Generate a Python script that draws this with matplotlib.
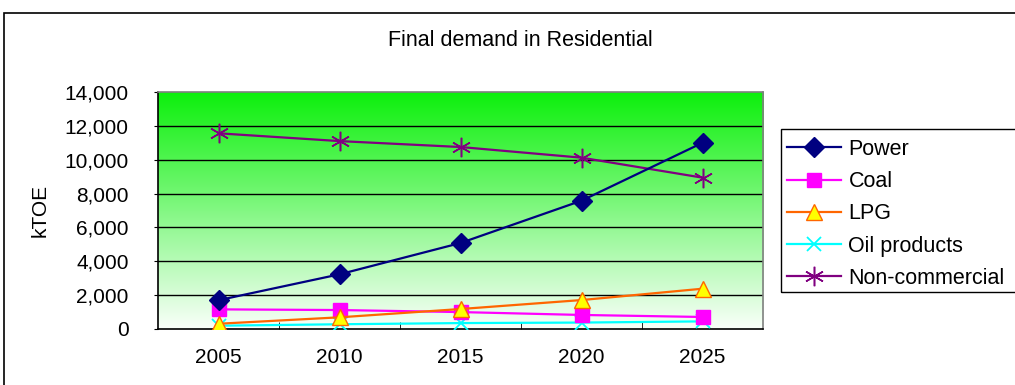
import numpy as np
import matplotlib
matplotlib.use("Agg")
import matplotlib.pyplot as plt
from matplotlib.patches import Rectangle
from matplotlib.colors import LinearSegmentedColormap

plt.rcParams['font.family'] = ['Liberation Sans', 'DejaVu Sans']

years = ["2005", "2010", "2015", "2020", "2025"]
power = [1700, 3230, 5080, 7580, 11000]
coal = [1160, 1120, 1000, 830, 710]
lpg = [310, 690, 1180, 1710, 2380]
oil_products = [195, 280, 350, 380, 450]
non_commercial = [11560, 11100, 10750, 10120, 8940]

W, H = 1015, 385
fig = plt.figure(figsize=(W / 100, H / 100), dpi=100)
fig.patch.set_facecolor("white")

# outer chart frame
fig.patches.append(Rectangle((4 / W, -0.1), 2.0, 1 - 13 / H + 0.1,
                             transform=fig.transFigure, fill=False,
                             edgecolor="black", linewidth=1.2, zorder=0))

left, right, top, bottom = 158, 763, 92, 329
ax = fig.add_axes([left / W, 1 - bottom / H, (right - left) / W, (bottom - top) / H])

x = np.arange(len(years))
ax.set_xlim(-0.5, len(years) - 0.5)
ax.set_ylim(0, 14000)

# vertical white-to-green background gradient
cmap = LinearSegmentedColormap.from_list("bg", ["#fafffa", "#0cf00c"])
grad = np.linspace(0, 1, 256).reshape(-1, 1)
ax.imshow(grad, cmap=cmap, origin="lower", aspect="auto",
          extent=(-0.5, len(years) - 0.5, 0, 14000), zorder=0)

yt = np.arange(0, 14001, 2000)
for v in yt[1:-1]:
    ax.axhline(v, color="black", linewidth=1.0, zorder=1)

lw = 1.6
ax.plot(x, power, color="#000080", marker="D", markersize=10, linewidth=lw,
        label="Power", zorder=5)
ax.plot(x, coal, color="#ff00ff", marker="s", markersize=10, linewidth=lw,
        label="Coal", zorder=4)
ax.plot(x, lpg, color="#ff6600", marker="^", markersize=12, markerfacecolor="#ffff00",
        markeredgecolor="#ff6600", linewidth=lw, label="LPG", zorder=4)
ax.plot(x, oil_products, color="#00ffff", marker="x", markersize=10, markeredgewidth=1.3,
        linewidth=lw, label="Oil products", zorder=3)
ax.plot(x, non_commercial, color="#800080", marker=(6, 2, 0), markersize=14,
        markeredgewidth=1.1, linewidth=lw, label="Non-commercial", zorder=4)

fs = 15
ax.set_yticks(yt)
ax.set_yticklabels([f"{v:,}" for v in yt], fontsize=fs)
ax.set_xticks(x)
ax.set_xticklabels(years, fontsize=fs)
ax.set_xticks(np.arange(0.5, len(years) - 0.5, 1), minor=True)
ax.tick_params(axis="x", which="major", length=0, pad=14)
ax.tick_params(axis="x", which="minor", direction="in", length=5, color="black")
ax.tick_params(axis="y", direction="out", length=3, pad=18)

for s in ["left", "bottom"]:
    ax.spines[s].set_color("black")
    ax.spines[s].set_linewidth(1.2)
for s in ["top", "right"]:
    ax.spines[s].set_color("#808080")
    ax.spines[s].set_linewidth(1.2)

fig.text(40 / W, 1 - 210 / H, "kTOE", rotation=90, ha="center", va="center", fontsize=fs)
fig.text(520 / W, 1 - 40 / H, "Final demand in Residential", ha="center", va="center",
         fontsize=15.5)

# legend box runs off the right edge of the chart area
fig.patches.append(Rectangle((781 / W, 1 - 292 / H), 0.5, (292 - 129) / H,
                             transform=fig.transFigure, fill=False,
                             edgecolor="black", linewidth=1.0, zorder=3))
leg = fig.legend(loc="upper left", bbox_to_anchor=(781 / W, 1 - 133 / H),
                 fontsize=15.5, frameon=False,
                 handlelength=2.5, labelspacing=0.52, borderpad=0.28,
                 handletextpad=0.35, borderaxespad=0)

fig.savefig("out.png", dpi=100, facecolor="white")
